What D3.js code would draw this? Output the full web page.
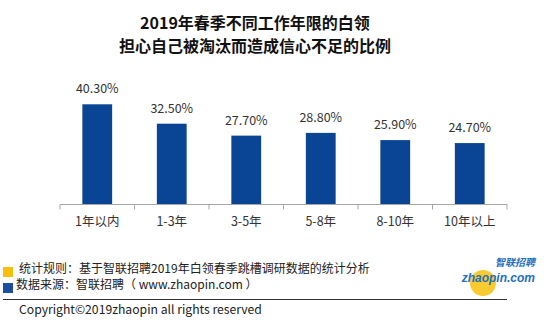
<!DOCTYPE html>
<html>
<head>
<meta charset="utf-8">
<script src="https://cdn.jsdelivr.net/npm/d3@7"></script>
<style>
  html, body { margin: 0; padding: 0; background: #fff; }
  svg { display: block; }
</style>
</head>
<body>
<svg id="chart" width="550" height="323"></svg>
<script>
// Working-years groups and share of white-collar workers worried about being eliminated
const categories = ["1年以内", "1-3年", "3-5年", "5-8年", "8-10年", "10年以上"];
const values = [40.3, 32.5, 27.7, 28.8, 25.9, 24.7];
const titleLines = ["2019年春季不同工作年限的白领", "担心自己被淘汰而造成信心不足的比例"];
const notes = ["统计规则：基于智联招聘2019年白领春季跳槽调研数据的统计分析", "数据来源：智联招聘（ www.zhaopin.com ）"];
const copyright = "Copyright©2019zhaopin all rights reserved";

const svg = d3.select("#chart");
const font = "'Microsoft YaHei', 'Noto Sans CJK SC', sans-serif";

// Title
svg.selectAll("text.title")
  .data(titleLines)
  .join("text")
  .attr("class", "title")
  .attr("x", 255)
  .attr("y", (d, i) => 29 + i * 23)
  .attr("text-anchor", "middle")
  .attr("font-family", font)
  .attr("font-weight", "bold")
  .attr("font-size", 16)
  .attr("fill", "#111")
  .text(d => d);

// Plot area
const x0 = 60, x1 = 507;
const x = d3.scaleBand().domain(categories).range([x0, x1]).paddingInner(0.6).paddingOuter(0.3);
const y = d3.scaleLinear().domain([0, 40.3]).range([204.5, 104.3]);

svg.selectAll("rect.bar")
  .data(values)
  .join("rect")
  .attr("class", "bar")
  .attr("x", (d, i) => x(categories[i]))
  .attr("width", x.bandwidth())
  .attr("y", d => y(d))
  .attr("height", d => y(0) - y(d))
  .attr("fill", "#0a4494");

svg.selectAll("text.val")
  .data(values)
  .join("text")
  .attr("class", "val")
  .attr("x", (d, i) => x(categories[i]) + x.bandwidth() / 2)
  .attr("y", d => y(d) - 11)
  .attr("text-anchor", "middle")
  .attr("font-family", font)
  .attr("font-size", 12.5)
  .attr("fill", "#333")
  .text(d => d.toFixed(2) + "%");

// Category axis with boundary tick marks between groups
const axisG = svg.append("g").attr("transform", `translate(0,${y(0)})`);
axisG.append("line")
  .attr("x1", x0).attr("x2", x1)
  .attr("stroke", "#a6a6a6").attr("stroke-width", 1);
const cellW = (x1 - x0) / categories.length;
axisG.selectAll("line.tick")
  .data(d3.range(categories.length + 1))
  .join("line")
  .attr("class", "tick")
  .attr("x1", i => x0 + i * cellW)
  .attr("x2", i => x0 + i * cellW)
  .attr("y1", 0).attr("y2", 5)
  .attr("stroke", "#a6a6a6");
axisG.selectAll("text.cat")
  .data(categories)
  .join("text")
  .attr("class", "cat")
  .attr("x", d => x(d) + x.bandwidth() / 2)
  .attr("y", 21)
  .attr("text-anchor", "middle")
  .attr("font-family", font)
  .attr("font-size", 12.5)
  .attr("fill", "#333")
  .text(d => d);

// Footer notes
const noteColors = ["#f7c00a", "#1b4ea0"];
svg.selectAll("rect.key")
  .data(noteColors)
  .join("rect")
  .attr("class", "key")
  .attr("x", 3)
  .attr("y", (d, i) => 267 + i * 16)
  .attr("width", 10).attr("height", 10)
  .attr("fill", d => d);
svg.selectAll("text.note")
  .data(notes)
  .join("text")
  .attr("class", "note")
  .attr("x", (d, i) => i === 0 ? 19 : 16)
  .attr("y", (d, i) => 273 + i * 16)
  .attr("font-family", font)
  .attr("font-size", 12)
  .attr("fill", "#222")
  .text(d => d);

svg.append("line")
  .attr("x1", 3).attr("x2", 507)
  .attr("y1", 299.5).attr("y2", 299.5)
  .attr("stroke", "#333").attr("stroke-width", 1);

svg.append("text")
  .attr("x", 19).attr("y", 314)
  .attr("font-family", font)
  .attr("font-size", 12.2)
  .attr("fill", "#222")
  .text(copyright);

// Brand mark
const logo = svg.append("g");
logo.append("circle").attr("cx", 483).attr("cy", 283).attr("r", 13).attr("fill", "#f8c51a").attr("opacity", 0.9);
logo.append("text")
  .attr("x", 535).attr("y", 266)
  .attr("text-anchor", "end")
  .attr("font-family", font)
  .attr("font-weight", "bold")
  .attr("font-style", "italic")
  .attr("font-size", 10)
  .attr("fill", "#1f6fc0")
  .text("智联招聘");
logo.append("text")
  .attr("x", 535).attr("y", 282)
  .attr("text-anchor", "end")
  .attr("font-family", "Arial, 'Liberation Sans', sans-serif")
  .attr("font-weight", "bold")
  .attr("font-style", "italic")
  .attr("font-size", 12)
  .attr("fill", "#1f6fc0")
  .text("zhaopin.com");
</script>
</body>
</html>
